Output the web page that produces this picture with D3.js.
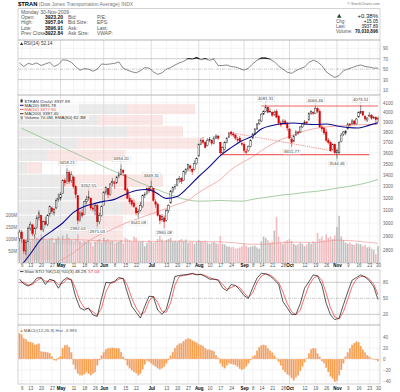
<!DOCTYPE html>
<html>
<head>
<meta charset="utf-8">
<style>
body { margin: 0; background: #fff; }
svg { display: block; font-family: "Liberation Sans", Arial, sans-serif; }
</style>
</head>
<body>
<svg width="400" height="392"></svg>
<script src="https://d3js.org/d3.v7.min.js"></script>
<script>
// $TRAN daily, 3-Apr-2009 .. 30-Nov-2009
var holidays = ["2009-04-10", "2009-05-25", "2009-07-03", "2009-09-07", "2009-11-26"];

var tickDates = ["2009-04-06","2009-04-13","2009-04-20","2009-04-27","2009-05-01","2009-05-11","2009-05-18","2009-05-26",
  "2009-06-01","2009-06-08","2009-06-15","2009-06-22","2009-07-01","2009-07-13","2009-07-20","2009-07-27","2009-08-03",
  "2009-08-10","2009-08-17","2009-08-24","2009-09-01","2009-09-08","2009-09-14","2009-09-21","2009-09-28","2009-10-01",
  "2009-10-12","2009-10-19","2009-10-26","2009-11-02","2009-11-09","2009-11-16","2009-11-23","2009-11-30"];
var tickLabels = ["6","13","20","27","May","11","18","26","Jun","8","15","22","Jul","13","20","27","Aug",
  "10","17","24","Sep","8","14","21","28","Oct","12","19","26","Nov","9","16","23","30"];

var open = [
  2880,2930,2870,2790,2860,2960,2985,2910,2965,3040, 3060,2950,3010,2990,3070,3120,3080,3120,3190,3200,
  3240,3350,3340,3420,3350,3380,3300,3220,3020,3080, 3070,3170,3195,3200,3120,3100,3140,3010,3060,3140,
  3250,3280,3230,3330,3330,3330,3390,3400,3440,3400, 3270,3200,3180,3160,3120,3080,3100,3130,3220,3240,
  3285,3270,3280,3170,3150,3060,3025,3040,3020,3100, 3160,3255,3290,3310,3360,3370,3350,3420,3450,3480,
  3450,3450,3500,3570,3680,3720,3700,3670,3720,3720, 3690,3740,3760,3700,3600,3630,3700,3750,3800,3780,
  3770,3730,3740,3690,3680,3610,3620,3660,3740,3780, 3830,3880,3910,3980,4010,4050,4010,4000,3980,4010,
  3960,3890,3880,3910,3880,3830,3730,3710,3770,3800, 3800,3850,3880,3900,3920,3990,4000,3990,4040,4010,
  3850,3840,3800,3720,3700,3630,3680,3600,3600,3710, 3780,3790,3830,3880,3880,3910,3880,3950,3990,4010,
  3960,3920,3960,3970,3940,3950,3923.20];
var high = [
  2950,2945,2880,2870,2975,3010,2995,2970,3060,3100, 3065,3020,3050,3070,3140,3130,3120,3200,3240,3250,
  3360,3370,3458.21,3440,3430,3390,3310,3225,3100,3110, 3180,3220,3262.55,3205,3150,3160,3150,3080,3140,3260,
  3300,3285,3330,3370,3350,3390,3430,3494.20,3450,3405, 3290,3230,3200,3190,3130,3110,3170,3230,3250,3290,
  3300,3349.31,3285,3190,3160,3070,3070,3060,3110,3150, 3270,3300,3320,3370,3390,3380,3440,3460,3500,3490,
  3460,3530,3560,3690,3740,3750,3710,3740,3750,3730, 3760,3780,3770,3705,3660,3710,3750,3800,3810,3800,
  3780,3750,3760,3700,3700,3640,3670,3730,3790,3840, 3890,3930,3990,4020,4081.31,4060,4040,4010,4020,4030,
  3970,3910,3930,3925,3900,3840,3750,3770,3820,3810, 3860,3890,3920,3910,4000,4020,4010,4066.46,4050,4030,
  3870,3850,3830,3740,3710,3690,3690,3640,3710,3790, 3810,3820,3890,3890,3930,3920,3940,4010,4073.51,4015,
  3965,3950,4000,3980,3960,3955,3957.04];
var low = [
  2860,2850,2770,2760,2855,2940,2900,2880,2950,3020, 2940,2930,2980,2975,3050,3070,3060,3110,3170,3180,
  3235,3300,3320,3320,3330,3280,3200,2992.03,3010,3040, 3065,3150,3180,3100,3090,3060,2971.03,2990,3050,3140,
  3230,3200,3220,3300,3280,3320,3370,3395,3390,3260, 3190,3150,3130,3120,3060,3041.08,3090,3120,3200,3225,
  3240,3260,3170,3120,3050,2990,3010,2960.08,3010,3080, 3155,3240,3270,3300,3330,3320,3345,3400,3430,3430,
  3400,3440,3490,3565,3670,3680,3640,3660,3700,3670, 3680,3730,3720,3583,3595,3620,3690,3740,3760,3750,
  3720,3690,3700,3660,3600,3590,3610,3650,3730,3770, 3820,3870,3900,3970,4000,3990,3990,3950,3960,3940,
  3870,3850,3870,3870,3810,3730,3655.77,3700,3760,3770, 3790,3840,3870,3870,3915,3970,3970,3985,3990,3840,
  3800,3770,3700,3680,3610,3620,3590,3544.46,3590,3700, 3760,3770,3825,3850,3870,3870,3875,3945,3980,3960,
  3910,3900,3950,3920,3930,3870,3896.91];
var close = [
  2930,2880,2790,2850,2960,2990,2920,2960,3040,3080, 2950,3010,2990,3060,3130,3090,3110,3180,3200,3230,
  3350,3330,3420,3340,3400,3300,3230,3020,3080,3060, 3170,3190,3210,3120,3110,3140,3010,3060,3130,3250,
  3290,3230,3320,3340,3330,3380,3400,3450,3420,3270, 3200,3170,3150,3130,3080,3090,3140,3220,3230,3280,
  3260,3300,3180,3150,3060,3020,3050,3010,3100,3140, 3260,3290,3300,3360,3370,3340,3430,3450,3490,3460,
  3430,3500,3550,3680,3720,3700,3650,3720,3730,3690, 3740,3760,3740,3600,3650,3700,3740,3790,3780,3770,
  3740,3720,3710,3680,3620,3610,3660,3720,3780,3830, 3880,3920,3980,4010,4050,4000,4010,3970,4000,3950,
  3890,3870,3910,3880,3840,3740,3700,3760,3800,3790, 3850,3880,3900,3890,3990,4010,3990,4040,4010,3850,
  3830,3790,3720,3700,3620,3680,3600,3620,3700,3770, 3800,3810,3880,3870,3910,3880,3930,4000,4010,3970,
  3930,3940,3970,3940,3950,3922.84,3937.89];
// volume, millions of shares
var volume = [
  110,105,100,95,115,90,100,98,105,100, 120,102,98,95,100,105,85,100,110,95,
  115,100,120,105,95,90,100,120,90,85, 92,88,95,85,70,88,92,100,85,105,
  95,100,90,92,80,85,88,95,82,105, 100,95,90,110,105,90,88,92,70,85,
  95,88,85,92,100,112,98,90,95,100, 105,90,92,88,95,100,92,98,85,90,
  88,80,88,95,90,88,92,85,80,85, 88,82,80,112,80,78,70,68,65,68,
  60,62,65,70,80,72,65,68,70,72, 65,60,90,110,105,95,85,90,135,192,
  110,85,80,90,95,100,92,80,75,78, 85,80,70,78,85,80,90,85,125,100,
  110,95,120,105,110,100,115,150,197,110, 95,85,80,85,78,75,82,80,78,70,
  75,65,68,60,55,37,70];
var macdHist = [
  47,45,38,36,32,31,30,26,27,28, 14,13,13,12,11,5,-2,-3,2,5,
  20,25,26,22,12,-10,-19,-27,-30,-30, -28,-24,-27,-30,-27,-24,-12,-2,6,13,
  18,20,20,21,20,20,19,13,4,-2, -12,-17,-21,-24,-26,-30,-27,-19,-10,-3,
  -5,-8,-11,-14,-17,-19,-17,-14,-8,-2, 6,13,20,25,28,29,33,36,38,37,
  34,32,30,27,26,24,20,17,17,16, 14,7,2,-8,-14,-17,-12,-8,-9,-10,
  -11,-14,-18,-20,-18,-14,-8,-2,4,7, 15,22,25,26,25,20,15,12,6,1,
  -5,-12,-20,-24,-28,-30,-35,-39,-34,-30, -22,-14,-6,1,10,18,20,19,10,4,
  -4,-8,-16,-24,-32,-36,-42,-40,-30,-20, -8,4,12,20,26,29,32,31,24,17,
  12,7,4,1,-1,-2,-4];

// oscillators, read every second trading day
var rsi = [62,55,61,59,62,57,60,63,55,59, 68,67,63,55,48,51,50,46,50,60, 59,60,61,64,52,48,45,43,47,53,
  52,45,40,43,50,53,58,62,65,70, 69,72,68,70,67,69,57,57,58,55, 54,51,48,52,60,67,71,71,69,64,
  56,50,44,42,47,51,54,63,67,64, 57,45,39,34,38,47,50,53,56,58, 55,54,52,52];
var stochK = [86,77,73,78,88,89,76,86,83,69, 83,89,84,53,32,28,32,19,16,50, 80,79,82,89,87,60,35,24,13,35,
  54,53,28,20,30,60,91,93,94,95, 97,94,95,91,86,86,84,70,64,76, 74,66,55,50,70,88,97,96,92,85,
  76,44,32,20,20,40,69,81,94,92, 75,41,19,10,13,38,62,84,89,94, 90,83,72,48];
var stochD = [80,80,75,76,83,88,82,82,84,76, 78,86,86,68,45,32,30,25,18,32, 62,78,80,86,88,74,50,32,20,24,
  45,54,42,25,24,42,75,91,93,94, 96,95,95,93,89,86,85,77,67,70, 74,70,60,52,60,80,92,96,94,88,
  80,62,40,25,19,28,52,74,87,93, 84,60,32,15,11,25,48,72,86,91, 91,86,77,57];

// moving averages, read at the first trading day of each week
var weekDates = ["2009-04-06","2009-04-13","2009-04-20","2009-04-27","2009-05-04","2009-05-11","2009-05-18","2009-05-26",
  "2009-06-01","2009-06-08","2009-06-15","2009-06-22","2009-06-29","2009-07-06","2009-07-13","2009-07-20","2009-07-27",
  "2009-08-03","2009-08-10","2009-08-17","2009-08-24","2009-08-31","2009-09-08","2009-09-14","2009-09-21","2009-09-28",
  "2009-10-05","2009-10-12","2009-10-19","2009-10-26","2009-11-02","2009-11-09","2009-11-16","2009-11-23","2009-11-30"];
var ma20 = [2690,2768,2877,2937,3000,3084,3132,3157,3173,3190, 3231,3264,3273,3248,3198,3214,3290,3385,3473,3574,
  3649,3714,3762,3830,3865,3885,3890,3880,3875,3880, 3860,3845,3840,3868,3892];
var ma50 = [null,null,null,2690,2731,2777,2840,2892,2922,2960, 2998,3029,3060,3084,3116,3149,3182,3248,3302,3359,
  3447,3509,3564,3620,3682,3733,3771,3810,3835,3850, 3860,3866,3872,3876,3878];
var ma200 = [3836,3797,3747,3699,3650,3603,3556,3510,3473,3429, 3388,3345,3307,3278,3241,3209,3185,3175,3177,3181,
  3177,3175,3190,3202,3214,3227,3235,3248,3256,3268, 3285,3297,3314,3336,3360];
var volEma = [97,98,99,99,99,98,96,94,93,92, 91,91,90,90,91,91,91,90,89,88, 85,81,78,78,80,86,87,86,86,90, 95,94,90,86,82];

// volume by price: zone edges (price), up / down volume per zone (10M shares)
var vbpEdges = [2720,2834,2948,3062,3177,3291,3405,3519,3633,3748,3862,3976,4090];
var vbpUp = [22,62,82,105,65,42,9,29,59,109,79,110];
var vbpDown = [15,43,23,35,44,103,15,78,123,56,66,67];

// price annotations and drawn trend lines
var annoDates = ["2009-05-06","2009-05-20","2009-06-11","2009-07-01","2009-05-13","2009-05-27","2009-06-23","2009-07-10",
  "2009-09-16","2009-10-19","2009-11-17","2009-10-02","2009-11-02"];
var annoPrices = [3458.21,3262.55,3494.20,3349.31,2992.03,2971.03,3041.08,2960.08,4081.31,4066.46,4073.51,3655.77,3544.46];
var annoKind = ["high","high","high","high","low","low","low","low","high","high","high","low","low"];
var trendFrom = ["2009-09-14","2009-08-17","2009-08-24"];
var trendTo = ["2009-11-30","2009-11-23","2009-11-02"];
var trendP1 = [4065,3583,3793];
var trendP2 = [4065,3583,3610];
var trendDash = [false,false,true];

var priceTicks = [2800,2900,3000,3100,3200,3300,3400,3500,3600,3700,3800,3900,4000,4100];
var volTicks = [50,100,150,200];
var rsiTicks = [10,30,50,70,90];
var stoTicks = [20,50,80];
var macdTicks = [-40,-20,0,20,40];

// ---------------------------------------------------------------
var fmt = d3.timeFormat("%Y-%m-%d");
var days = d3.timeDay.range(new Date(2009, 3, 3), new Date(2009, 11, 1))
  .filter(function(d) { var w = d.getDay(); return w > 0 && w < 6 && holidays.indexOf(fmt(d)) < 0; })
  .map(fmt);
var oscDays = days.filter(function(d, i) { return i % 2 === 0; });

var svg = d3.select("svg");
svg.append("rect").attr("width", 400).attr("height", 392).attr("fill", "#fff");

var L = 18, R = 380;
var x = d3.scalePoint().domain(days).range([19.5, 378]);
var yRsi = d3.scaleLinear().domain([0, 100]).range([95.2, 43.1]);
var yPrice = d3.scaleLog().domain([2704, 4183]).range([263, 95]);
var yVol = d3.scaleLinear().domain([0, 200]).range([263, 215]);
var ySto = d3.scaleLinear().domain([0, 100]).range([325, 271.7]);
var yMacd = d3.scaleLinear().domain([-40, 40]).range([380.7, 337.3]);
var xVbp = d3.scaleLinear().domain([0, 200]).range([L, L + 200]);

function isMonth(s) { return /[A-Za-z]/.test(s); }

var defs = svg.append("defs");
function clip(id, y0, y1) {
  defs.append("clipPath").attr("id", id).append("rect")
    .attr("x", L).attr("y", y0).attr("width", R - L).attr("height", y1 - y0);
}
clip("cMain", 95, 263); clip("cRsi", 40, 95); clip("cSto", 270, 325); clip("cMacd", 325, 384);
defs.append("clipPath").attr("id", "cOver").append("rect")
  .attr("x", L).attr("y", 40).attr("width", R - L).attr("height", yRsi(70) - 40);

function vgrid(y0, y1) {
  svg.append("g").selectAll("line").data(tickDates).enter().append("line")
    .attr("x1", function(d) { return x(d); }).attr("x2", function(d) { return x(d); })
    .attr("y1", y0).attr("y2", y1)
    .attr("stroke", function(d, i) { return isMonth(tickLabels[i]) ? "#c6c6c6" : "#ececec"; })
    .attr("stroke-width", 0.6);
}
function hgrid(scale, vals, colorFn, dashFn) {
  svg.append("g").selectAll("line").data(vals).enter().append("line")
    .attr("x1", L).attr("x2", R)
    .attr("y1", function(d) { return scale(d); }).attr("y2", function(d) { return scale(d); })
    .attr("stroke", colorFn).attr("stroke-width", 0.6)
    .attr("stroke-dasharray", dashFn || null);
}
function rightAxis(scale, vals, fmtF) {
  var g = svg.append("g").attr("transform", "translate(" + R + ",0)")
    .call(d3.axisRight(scale).tickValues(vals).tickSize(0).tickPadding(3).tickFormat(fmtF));
  g.attr("font-size", 4.5).attr("font-family", null);
  g.select(".domain").remove();
  g.selectAll("text").attr("fill", "#666");
}
function frame(y0, y1) {
  svg.append("rect").attr("x", L).attr("y", y0).attr("width", R - L).attr("height", y1 - y0)
    .attr("fill", "none").attr("stroke", "#b5b5b5").attr("stroke-width", 0.6);
}

// ---------- header
var hd = svg.append("g").attr("font-size", 5).attr("fill", "#333");
var title = hd.append("text").attr("x", 18).attr("y", 6.2);
title.append("tspan").attr("font-weight", "bold").attr("font-size", 5.8).attr("fill", "#000").text("$TRAN");
title.append("tspan").attr("fill", "#777").text(" (Dow Jones Transportation Average) INDX");
hd.append("text").attr("x", 380).attr("y", 5).attr("text-anchor", "end").attr("font-size", 3.8)
  .attr("fill", "#777").text("\u00a9 StockCharts.com");
hd.append("rect").attr("x", L).attr("y", 8.7).attr("width", R - L).attr("height", 31.3)
  .attr("fill", "#fff").attr("stroke", "#b5b5b5").attr("stroke-width", 0.6);
hd.append("text").attr("x", 21).attr("y", 13.6).attr("fill", "#555").text("Monday  30-Nov-2009");
var qLabels = ["Open:", "High:", "Low:", "Prev Close:"];
var qValues = ["3923.20", "3957.04", "3896.91", "3922.84"];
var q2 = ["Bid:", "Bid Size:", "Ask:", "Ask Size:"];
var q3 = ["P/E:", "EPS:", "Last:", "VWAP:"];
qLabels.forEach(function(s, i) {
  var yy = 19 + i * 5.35;
  hd.append("text").attr("x", 21).attr("y", yy).attr("fill", "#555").text(s);
  hd.append("text").attr("x", 45).attr("y", yy).attr("font-weight", "bold").attr("fill", "#111").text(qValues[i]);
  hd.append("text").attr("x", 68).attr("y", yy).attr("fill", "#555").text(q2[i]);
  hd.append("text").attr("x", 97).attr("y", yy).attr("fill", "#555").text(q3[i]);
});
var cLabels = ["", "Chg:", "Last:", "Volume:"];
var cValues = ["+0.38%", "+15.05", "3937.89", "70,010,896"];
cLabels.forEach(function(s, i) {
  var yy = 18 + i * 5.1;
  hd.append("text").attr("x", 336).attr("y", yy).attr("font-size", 4.5).attr("fill", "#555").text(s);
  hd.append("text").attr("x", 378).attr("y", yy).attr("text-anchor", "end")
    .attr("font-size", i === 0 ? 6 : 4.6).attr("font-weight", i === 3 ? "bold" : null)
    .attr("fill", "#111").text(cValues[i]);
});
hd.append("path").attr("d", "M337,17.8 l2.2,-4 l2.2,4 z").attr("fill", "#1c4a1c");

// ---------- RSI panel
vgrid(40, 95);
hgrid(yRsi, [90, 10], "#ececec");
hgrid(yRsi, [70, 30], "#a8a8a8");
hgrid(yRsi, [50], "#a8a8a8", "3,1,1,1");
var rsiLine = d3.line().x(function(d, i) { return x(oscDays[i]); }).y(function(d) { return yRsi(d); });
svg.append("path").datum(rsi).attr("clip-path", "url(#cRsi)").attr("d", rsiLine)
  .attr("fill", "none").attr("stroke", "#555").attr("stroke-width", 0.7);
svg.append("path").datum(rsi).attr("clip-path", "url(#cOver)").attr("d", rsiLine)
  .attr("fill", "none").attr("stroke", "#000").attr("stroke-width", 1.3);
rightAxis(yRsi, rsiTicks);
frame(40, 95);
svg.append("path").attr("d", "M20,45 l1.6,-2.8 l1.6,2.8 z").attr("fill", "#333");
svg.append("text").attr("x", 23.8).attr("y", 45).attr("font-size", 4.6).attr("fill", "#333").text("RSI(14) 52.14");

// ---------- main panel
vgrid(95, 263);
hgrid(yPrice, priceTicks, "#ececec");
var mainG = svg.append("g").attr("clip-path", "url(#cMain)");

// volume by price
var vbp = mainG.append("g");
vbpUp.forEach(function(u, i) {
  var y0 = yPrice(vbpEdges[i + 1]) + 0.5, y1 = yPrice(vbpEdges[i]) - 0.5;
  vbp.append("rect").attr("x", xVbp(0)).attr("y", y0).attr("width", xVbp(u) - xVbp(0)).attr("height", y1 - y0)
    .attr("fill", "#dcdcdc").attr("opacity", 0.6);
  vbp.append("rect").attr("x", xVbp(u)).attr("y", y0).attr("width", xVbp(u + vbpDown[i]) - xVbp(u)).attr("height", y1 - y0)
    .attr("fill", "#f7d2d2").attr("opacity", 0.55);
});

function isUp(i) { return i === 0 ? close[0] >= open[0] : close[i] >= close[i - 1]; }

// volume
mainG.append("g").selectAll("rect").data(volume).enter().append("rect")
  .attr("x", function(d, i) { return x(days[i]) - 0.8; })
  .attr("y", function(d) { return yVol(d); })
  .attr("width", 1.6)
  .attr("height", function(d) { return yVol(0) - yVol(d); })
  .attr("fill", function(d, i) { return isUp(i) ? "#b4b4b4" : "#f2aeb2"; })
  .attr("opacity", 0.85);

var weekLine = function(scale) {
  return d3.line().defined(function(d) { return d != null; })
    .x(function(d, i) { return x(weekDates[i]); }).y(function(d) { return scale(d); })
    .curve(d3.curveMonotoneX);
};
mainG.append("path").datum(volEma).attr("d", weekLine(yVol))
  .attr("fill", "none").attr("stroke", "#f08a8a").attr("stroke-width", 0.6);
mainG.append("path").datum(ma200).attr("d", weekLine(yPrice))
  .attr("fill", "none").attr("stroke", "#8fbf8f").attr("stroke-width", 0.8);
mainG.append("path").datum(ma50).attr("d", weekLine(yPrice))
  .attr("fill", "none").attr("stroke", "#f49a9a").attr("stroke-width", 0.8);

// drawn trend lines
trendFrom.forEach(function(d, i) {
  mainG.append("line")
    .attr("x1", x(d)).attr("y1", yPrice(trendP1[i]))
    .attr("x2", x(trendTo[i])).attr("y2", yPrice(trendP2[i]))
    .attr("stroke", trendDash[i] ? "#e84848" : "#f06464")
    .attr("stroke-width", trendDash[i] ? 0.6 : 1.1)
    .attr("stroke-dasharray", trendDash[i] ? "1.2,1" : null);
});

// candles
var cg = mainG.append("g");
days.forEach(function(d, i) {
  var col = isUp(i) ? "#222" : "#e00000";
  var cx = x(d);
  cg.append("line").attr("x1", cx).attr("x2", cx).attr("y1", yPrice(high[i])).attr("y2", yPrice(low[i]))
    .attr("stroke", col).attr("stroke-width", 0.55);
  var top = yPrice(Math.max(open[i], close[i])), bot = yPrice(Math.min(open[i], close[i]));
  cg.append("rect").attr("x", cx - 0.75).attr("y", top).attr("width", 1.5).attr("height", Math.max(0.6, bot - top))
    .attr("fill", close[i] > open[i] ? "#fff" : col).attr("stroke", col).attr("stroke-width", 0.45);
});

mainG.append("path").datum(ma20).attr("d", weekLine(yPrice))
  .attr("fill", "none").attr("stroke", "#0a0a8c").attr("stroke-width", 1.1);

// annotations
var ann = svg.append("g").attr("font-size", 4.3).attr("fill", "#444");
annoDates.forEach(function(d, i) {
  var px = x(d), py = yPrice(annoPrices[i]);
  var hi = annoKind[i] === "high";
  var ty = hi ? py - 4 : py + 6.3;
  var t = ann.append("text").attr("x", px).attr("y", ty).attr("text-anchor", "middle").text(annoPrices[i].toFixed(2));
  var b = t.node().getBBox();
  ann.insert("rect", function() { return t.node(); })
    .attr("x", b.x - 0.8).attr("y", b.y).attr("width", b.width + 1.6).attr("height", b.height)
    .attr("fill", "#fff").attr("fill-opacity", 0.85).attr("stroke", "#d0d0d0").attr("stroke-width", 0.3);
  ann.insert("line", function() { return t.node(); })
    .attr("x1", px).attr("x2", px).attr("y1", hi ? b.y + b.height : b.y).attr("y2", hi ? py - 0.5 : py + 0.5)
    .attr("stroke", "#aaa").attr("stroke-width", 0.4);
});

rightAxis(yPrice, priceTicks, d3.format("d"));
var va = svg.append("g").attr("font-size", 4.5).attr("fill", "#666");
va.selectAll("text").data(volTicks).enter().append("text")
  .attr("x", 17).attr("y", function(d) { return yVol(d); }).attr("dy", "0.35em")
  .attr("text-anchor", "end").text(function(d) { return d + "M"; });
frame(95, 263);

// main legend
var lg = svg.append("g").attr("font-size", 4.4).attr("fill", "#333");
var lgText = ["$TRAN (Daily) 3937.89", "MA(20) 3891.78", "MA(50) 3877.96", "MA(200) 3387.40", "Volume 70.0M, EMA(60) 82.3M"];
var lgColor = ["#333", "#0a0a8c", "#f06464", "#333", "#888"];
lgText.forEach(function(s, i) {
  var yy = 102.6 + i * 4.2;
  lg.append("rect").attr("x", 19).attr("y", yy - 4).attr("width", 60 + (i === 4 ? 10 : 0)).attr("height", 4.2)
    .attr("fill", "#fff").attr("fill-opacity", 0.6);
  if (i === 0 || i === 4) {
    lg.append("rect").attr("x", 20.5).attr("y", yy - 3.2).attr("width", 2.2).attr("height", 3)
      .attr("fill", i === 0 ? "#333" : "#999");
  } else {
    lg.append("line").attr("x1", 20).attr("x2", 23.5).attr("y1", yy - 1.5).attr("y2", yy - 1.5)
      .attr("stroke", lgColor[i]).attr("stroke-width", 1);
  }
  lg.append("text").attr("x", 24.5).attr("y", yy).attr("fill", i === 2 ? "#f06464" : "#333").text(s);
});

// ---------- date labels
function dateAxis(yPos, pad) {
  var g = svg.append("g").attr("transform", "translate(0," + yPos + ")")
    .call(d3.axisBottom(x).tickValues(tickDates).tickSize(0).tickPadding(pad)
      .tickFormat(function(d, i) { return tickLabels[i]; }));
  g.attr("font-size", 4.5).attr("font-family", null);
  g.select(".domain").remove();
  g.selectAll("text")
    .attr("fill", function(d, i) { return isMonth(tickLabels[i]) ? "#000" : "#555"; })
    .attr("font-weight", function(d, i) { return isMonth(tickLabels[i]) ? "bold" : null; });
}
dateAxis(263, 1.3);
dateAxis(384, 2.6);

// ---------- slow stochastics
vgrid(270, 325);
hgrid(ySto, [80, 20], "#a8a8a8");
hgrid(ySto, [50], "#a8a8a8", "3,1,1,1");
var stoLine = d3.line().x(function(d, i) { return x(oscDays[i]); }).y(function(d) { return ySto(d); });
svg.append("path").datum(stochD).attr("clip-path", "url(#cSto)").attr("d", stoLine)
  .attr("fill", "none").attr("stroke", "#f03030").attr("stroke-width", 0.7);
svg.append("path").datum(stochK).attr("clip-path", "url(#cSto)").attr("d", stoLine)
  .attr("fill", "none").attr("stroke", "#111").attr("stroke-width", 0.7);
rightAxis(ySto, stoTicks);
frame(270, 325);
svg.append("line").attr("x1", 20).attr("x2", 23.5).attr("y1", 271.6).attr("y2", 271.6).attr("stroke", "#111").attr("stroke-width", 0.8);
var st = svg.append("text").attr("x", 24.5).attr("y", 273.2).attr("font-size", 4.4).attr("fill", "#333");
st.append("tspan").text("Slow STO %K(14) %D(3) 48.29, ");
st.append("tspan").attr("fill", "#f03030").text("57.04");

// ---------- MACD histogram
vgrid(325, 384);
hgrid(yMacd, macdTicks, "#ececec");
svg.append("g").attr("clip-path", "url(#cMacd)").selectAll("rect").data(macdHist).enter().append("rect")
  .attr("x", function(d, i) { return x(days[i]) - 0.85; })
  .attr("y", function(d) { return Math.min(yMacd(d), yMacd(0)); })
  .attr("width", 1.7)
  .attr("height", function(d) { return Math.abs(yMacd(d) - yMacd(0)); })
  .attr("fill", "#f7a050").attr("stroke", "#f3b9a0").attr("stroke-width", 0.25);
rightAxis(yMacd, macdTicks);
frame(325, 384);
svg.append("path").attr("d", "M20,332 l1.6,-2.8 l1.6,2.8 z").attr("fill", "#f7a050");
svg.append("text").attr("x", 23.8).attr("y", 332).attr("font-size", 4.4).attr("fill", "#555")
  .text("MACD(12,26,9) Hist -3.993");
</script>
</body>
</html>
